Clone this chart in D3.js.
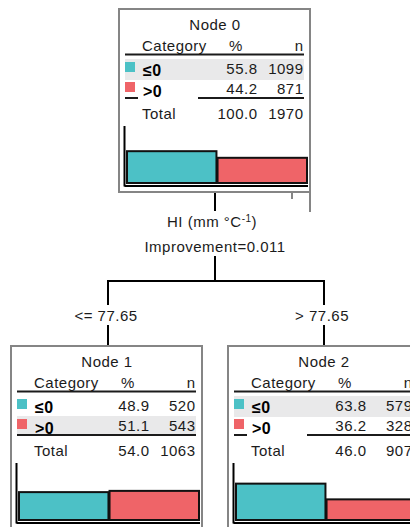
<!DOCTYPE html>
<html>
<head>
<meta charset="utf-8">
<script src="https://cdn.jsdelivr.net/npm/d3@7"></script>
<style>
  html, body { margin: 0; padding: 0; background: #fff; }
  svg { display: block; font-family: "Liberation Sans", Arial, sans-serif; letter-spacing: 0.5px; }
</style>
</head>
<body>
<div id="chart"></div>
<script>
// Classification tree: root split on HI into two child nodes
const categories = ["≤0", ">0"];
const nodeNames = ["Node 0", "Node 1", "Node 2"];
const nodePct = [[55.8, 44.2], [48.9, 51.1], [63.8, 36.2]];
const nodeN = [[1099, 871], [520, 543], [579, 328]];
const nodeTotalPct = [100.0, 54.0, 46.0];
const nodeTotalN = [1970, 1063, 907];
const splitVarName = "HI (mm °C";
const splitVarSup = "-1";
const improvement = 0.011;
const splitLabels = ["<= 77.65", "> 77.65"];

const W = 410, H = 527;
const colors = ["#4cc1c6", "#ef6468"];
const band = "#e9e9ea";
const ink = "#1b1b1b";
const boxW = 191, boxH = 183;
// box anchors (left, top) of each node
const nodePos = [[119, 9], [11, 346], [228, 346]];

const svg = d3.select("#chart").append("svg")
  .attr("width", W).attr("height", H);
svg.append("rect").attr("width", W).attr("height", H).attr("fill", "#fff");

const fs = 15;

// bar height scale shared by all nodes
const yScale = d3.scaleLinear().domain([0, 100]).range([0, 57]);
const xBand = d3.scaleBand().domain(categories).range([8, 188]).paddingInner(0.012);

function drawNode(i) {
  const [x0, y0] = nodePos[i];
  const g = svg.append("g").attr("transform", `translate(${x0},${y0})`);
  const pct = nodePct[i], n = nodeN[i];
  const mode = pct[0] >= pct[1] ? 0 : 1;

  // outer box
  g.append("rect").attr("x", 0).attr("y", 0).attr("width", boxW).attr("height", boxH)
    .attr("fill", "#fff").attr("stroke", "#858585").attr("stroke-width", 2);

  g.append("text").attr("x", 96).attr("y", 20.5).attr("text-anchor", "middle")
    .attr("font-size", fs).attr("fill", ink).text(nodeNames[i]);

  // header
  g.append("text").attr("x", 23).attr("y", 42).attr("font-size", fs).attr("fill", ink).text("Category");
  g.append("text").attr("x", 117).attr("y", 42).attr("text-anchor", "middle").attr("font-size", fs).attr("fill", ink).text("%");
  g.append("text").attr("x", 184.5).attr("y", 42).attr("text-anchor", "end").attr("font-size", fs).attr("fill", ink).text("n");

  const rowTop = [50, 70];
  const rowH = [21, 19];
  // highlight band on the modal category
  g.append("rect").attr("x", 6).attr("y", rowTop[mode]).attr("width", 179).attr("height", rowH[mode])
    .attr("fill", band);

  g.append("line").attr("x1", 6).attr("x2", 185).attr("y1", 45.5).attr("y2", 45.5)
    .attr("stroke", ink).attr("stroke-width", 2);
  // line above the total row, interrupted by the label box when not highlighted
  if (mode === 1) {
    g.append("line").attr("x1", 6).attr("x2", 185).attr("y1", 89).attr("y2", 89)
      .attr("stroke", ink).attr("stroke-width", 2);
  } else {
    g.append("line").attr("x1", 6).attr("x2", 19).attr("y1", 89).attr("y2", 89)
      .attr("stroke", ink).attr("stroke-width", 2);
    g.append("line").attr("x1", 79).attr("x2", 185).attr("y1", 89).attr("y2", 89)
      .attr("stroke", ink).attr("stroke-width", 2);
  }

  const numBase = [64.5, 84.5];
  const labBase = [67, 87.5];
  const swTop = [53, 73];
  categories.forEach((c, k) => {
    g.append("rect").attr("x", 6).attr("y", swTop[k]).attr("width", 10).attr("height", 10)
      .attr("fill", colors[k]);
    g.append("text").attr("x", 24).attr("y", labBase[k]).attr("font-size", 16)
      .attr("font-weight", "bold").attr("fill", "#000").text(c);
    g.append("text").attr("x", 138.5).attr("y", numBase[k]).attr("text-anchor", "end")
      .attr("font-size", fs).attr("fill", ink).text(d3.format(".1f")(pct[k]));
    g.append("text").attr("x", 184.5).attr("y", numBase[k]).attr("text-anchor", "end")
      .attr("font-size", fs).attr("fill", ink).text(n[k]);
  });

  g.append("text").attr("x", 23).attr("y", 109.5).attr("font-size", fs).attr("fill", ink).text("Total");
  g.append("text").attr("x", 138.5).attr("y", 109.5).attr("text-anchor", "end").attr("font-size", fs).attr("fill", ink)
    .text(d3.format(".1f")(nodeTotalPct[i]));
  g.append("text").attr("x", 184.5).attr("y", 109.5).attr("text-anchor", "end").attr("font-size", fs).attr("fill", ink)
    .text(nodeTotalN[i]);

  // bar chart of category percentages
  const base = 174;
  g.append("line").attr("x1", 5.5).attr("x2", 5.5).attr("y1", 117).attr("y2", 177.5)
    .attr("stroke", "#000").attr("stroke-width", 2);
  g.append("line").attr("x1", 5.5).attr("x2", 189).attr("y1", 177).attr("y2", 177)
    .attr("stroke", "#000").attr("stroke-width", 2);
  g.selectAll("rect.bar").data(categories).join("rect").attr("class", "bar")
    .attr("x", c => xBand(c))
    .attr("width", xBand.bandwidth())
    .attr("y", (c, k) => base - yScale(pct[k]))
    .attr("height", (c, k) => yScale(pct[k]))
    .attr("fill", (c, k) => colors[k])
    .attr("stroke", "#111").attr("stroke-width", 2);
}

// connectors
const line = (x1, y1, x2, y2) => svg.append("line")
  .attr("x1", x1).attr("y1", y1).attr("x2", x2).attr("y2", y2)
  .attr("stroke", "#000").attr("stroke-width", 2);

const rootCx = nodePos[0][0] + 96;
const childCx = [nodePos[1][0] + 97, nodePos[2][0] + 96];
const busY = 281;

line(rootCx, 192, rootCx, 211);
line(rootCx, 256, rootCx, busY);
line(childCx[0] - 1, busY, childCx[1] + 1, busY);
childCx.forEach(cx => {
  line(cx, busY, cx, 305);
  line(cx, 325, cx, 346);
});

// remnants of the root box frame
svg.append("line").attr("x1", 310).attr("x2", 310).attr("y1", 192).attr("y2", 212)
  .attr("stroke", "#858585").attr("stroke-width", 2);
svg.append("line").attr("x1", 292).attr("x2", 292).attr("y1", 192).attr("y2", 199)
  .attr("stroke", "#858585").attr("stroke-width", 2);

nodeNames.forEach((d, i) => drawNode(i));

// split description
const title = svg.append("text").attr("x", rootCx - 3).attr("y", 227).attr("text-anchor", "middle")
  .attr("font-size", fs).attr("fill", ink);
title.append("tspan").text(splitVarName);
title.append("tspan").attr("dy", -5).attr("font-size", 10).text(splitVarSup);
title.append("tspan").attr("dy", 5).text(")");

svg.append("text").attr("x", rootCx).attr("y", 252).attr("text-anchor", "middle")
  .attr("font-size", fs).attr("fill", ink).text("Improvement=" + improvement);

splitLabels.forEach((s, k) => {
  svg.append("text").attr("x", childCx[k] - 2).attr("y", 321).attr("text-anchor", "middle")
    .attr("font-size", fs).attr("fill", ink).text(s);
});
</script>
</body>
</html>
